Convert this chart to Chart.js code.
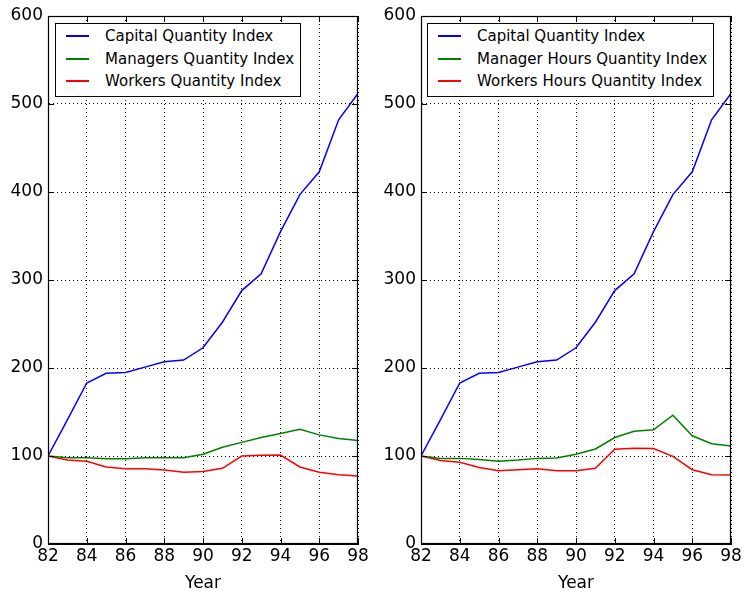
<!DOCTYPE html>
<html lang="en">
<head>
<meta charset="UTF-8">
<title>Quantity Indices</title>
<script src="https://cdnjs.cloudflare.com/ajax/libs/Chart.js/4.4.1/chart.umd.min.js"></script>
<style>
    body { margin: 0; background: #fff; font-family: "DejaVu Sans", sans-serif; }
    #wrap { position: relative; width: 745px; height: 594px; }
    canvas { position: absolute; top: 0; }
    .legend { position: absolute; top: 23px; border: 1px solid #000; background: #fff;
              padding: 1px 6px 3px 10px; font-size: 15px; color: #000; }
    .legend .row { display: flex; align-items: center; height: 22.5px; white-space: nowrap; }
    .legend .swatch { width: 23px; height: 2px; margin-right: 16px; }
</style>
</head>
<body>
<div id="wrap">
    <canvas id="left" width="372" height="594" style="left:0"></canvas>
    <canvas id="right" width="373" height="594" style="left:372px"></canvas>
    <div class="legend" id="legendLeft" style="left:55px"></div>
    <div class="legend" id="legendRight" style="left:427px"></div>
</div>

<script>
    const years = [82, 83, 84, 85, 86, 87, 88, 89, 90, 91, 92, 93, 94, 95, 96, 97, 98];

    const capitalIndex = [100, 141, 183, 194, 195, 201, 207, 209, 223, 252, 288, 307, 355, 397, 423, 482, 512];

    const managersIndex = [100, 98, 98, 97, 97, 98, 98, 98, 102, 110, 115.5, 121, 125.5, 130.5, 124, 120, 117.5];
    const workersIndex = [100, 95.5, 94, 87.5, 85.5, 85.5, 84, 81.5, 82.5, 86, 100, 100.8, 101, 87.5, 81.5, 78.7, 77.2];

    const managerHoursIndex = [100, 97.3, 97.3, 96, 94, 95.4, 97.3, 97.7, 102, 108, 121, 128, 129.7, 146.4, 123, 114, 111.4];
    const workersHoursIndex = [100, 95, 93, 87, 83.3, 84.4, 85.5, 83.3, 83.3, 86, 107.6, 108.7, 108.4, 99.6, 84.4, 78.7, 78.3];

    const xTicks = { min: 82, max: 98, step: 2 };
    const yTicks = { min: 0, max: 600, step: 100 };

    const font = '"DejaVu Sans", sans-serif';

    // solid frame plus inward tick marks on all four sides
    const frame = {
        id: 'frame',
        afterDraw(chart) {
            const { ctx, chartArea: a, scales: { x, y } } = chart;
            ctx.save();
            ctx.strokeStyle = '#000';
            ctx.lineWidth = 1;
            ctx.beginPath();
            x.ticks.forEach(t => {
                const px = Math.round(x.getPixelForValue(t.value)) + 0.5;
                ctx.moveTo(px, a.bottom); ctx.lineTo(px, a.bottom - 6);
                ctx.moveTo(px, a.top); ctx.lineTo(px, a.top + 6);
            });
            y.ticks.forEach(t => {
                const py = Math.round(y.getPixelForValue(t.value)) + 0.5;
                ctx.moveTo(a.left, py); ctx.lineTo(a.left + 6, py);
                ctx.moveTo(a.right, py); ctx.lineTo(a.right - 6, py);
            });
            ctx.stroke();
            ctx.lineWidth = 1.2;
            ctx.strokeRect(Math.round(a.left) + 0.5, Math.round(a.top) + 0.5,
                Math.round(a.width) - 1, Math.round(a.height) - 1);
            ctx.restore();
        }
    };

    function toPoints(values) {
        return values.map((v, i) => ({ x: years[i], y: v }));
    }

    function makeChart(id, series, yWidth, padRight) {
        return new Chart(document.getElementById(id), {
            type: 'line',
            data: {
                datasets: series.map(s => ({
                    label: s.label,
                    data: toPoints(s.values),
                    borderColor: s.color,
                    backgroundColor: s.color,
                    borderWidth: 1.5,
                    pointRadius: 0,
                    tension: 0
                }))
            },
            options: {
                responsive: false,
                animation: false,
                layout: { padding: { top: 16, right: padRight, left: 0, bottom: 0 } },
                plugins: { legend: { display: false }, tooltip: { enabled: false } },
                scales: {
                    x: {
                        type: 'linear',
                        min: xTicks.min,
                        max: xTicks.max,
                        ticks: { stepSize: xTicks.step, color: '#000', font: { family: font, size: 17 }, padding: 2 },
                        grid: { color: '#000', lineWidth: 1, drawTicks: false },
                        border: { dash: [1, 3], color: '#000' },
                        title: { display: true, text: 'Year', color: '#000', font: { family: font, size: 17 }, padding: { top: 2, bottom: 0 } },
                        afterFit: s => { s.height = 50; }
                    },
                    y: {
                        min: yTicks.min,
                        max: yTicks.max,
                        ticks: { stepSize: yTicks.step, color: '#000', font: { family: font, size: 17 }, padding: 5 },
                        grid: { color: '#000', lineWidth: 1, drawTicks: false },
                        border: { dash: [1, 3], color: '#000' },
                        afterFit: s => { s.width = yWidth; }
                    }
                }
            },
            plugins: [frame]
        });
    }

    function makeLegend(id, series) {
        const box = document.getElementById(id);
        series.forEach(s => {
            const row = document.createElement('div');
            row.className = 'row';
            const sw = document.createElement('div');
            sw.className = 'swatch';
            sw.style.background = s.color;
            const txt = document.createElement('span');
            txt.textContent = s.label;
            row.appendChild(sw);
            row.appendChild(txt);
            box.appendChild(row);
        });
    }

    const leftSeries = [
        { label: 'Capital Quantity Index', values: capitalIndex, color: '#0000ff' },
        { label: 'Managers Quantity Index', values: managersIndex, color: '#008000' },
        { label: 'Workers Quantity Index', values: workersIndex, color: '#ff0000' }
    ];
    const rightSeries = [
        { label: 'Capital Quantity Index', values: capitalIndex, color: '#0000ff' },
        { label: 'Manager Hours Quantity Index', values: managerHoursIndex, color: '#008000' },
        { label: 'Workers Hours Quantity Index', values: workersHoursIndex, color: '#ff0000' }
    ];

    makeChart('left', leftSeries, 48, 14);
    makeChart('right', rightSeries, 49, 14);
    makeLegend('legendLeft', leftSeries);
    makeLegend('legendRight', rightSeries);
</script>
</body>
</html>
